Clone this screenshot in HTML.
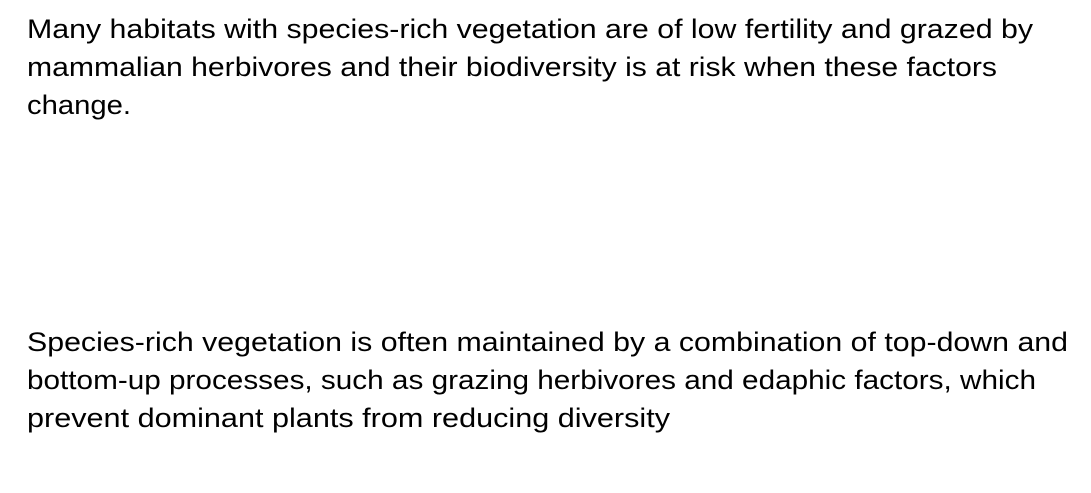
<!DOCTYPE html>
<html>
<head>
<meta charset="utf-8">
<style>
  html,body{margin:0;padding:0;background:#fff;}
  svg{display:block;}
  text{font-family:"Liberation Sans",sans-serif;font-size:27px;fill:#000;}
</style>
</head>
<body>
<svg width="1091" height="493" viewBox="0 0 1091 493">
  <g>
    <text x="27" y="38" textLength="1006" lengthAdjust="spacingAndGlyphs">Many habitats with species-rich vegetation are of low fertility and grazed by</text>
    <text x="27" y="76" textLength="970" lengthAdjust="spacingAndGlyphs">mammalian herbivores and their biodiversity is at risk when these factors</text>
    <text x="27" y="114" textLength="104" lengthAdjust="spacingAndGlyphs">change.</text>
  </g>
  <g>
    <text x="27" y="351" textLength="1041" lengthAdjust="spacingAndGlyphs">Species-rich vegetation is often maintained by a combination of top-down and</text>
    <text x="27" y="389" textLength="1009" lengthAdjust="spacingAndGlyphs">bottom-up processes, such as grazing herbivores and edaphic factors, which</text>
    <text x="27" y="427" textLength="643" lengthAdjust="spacingAndGlyphs">prevent dominant plants from reducing diversity</text>
  </g>
</svg>
</body>
</html>
